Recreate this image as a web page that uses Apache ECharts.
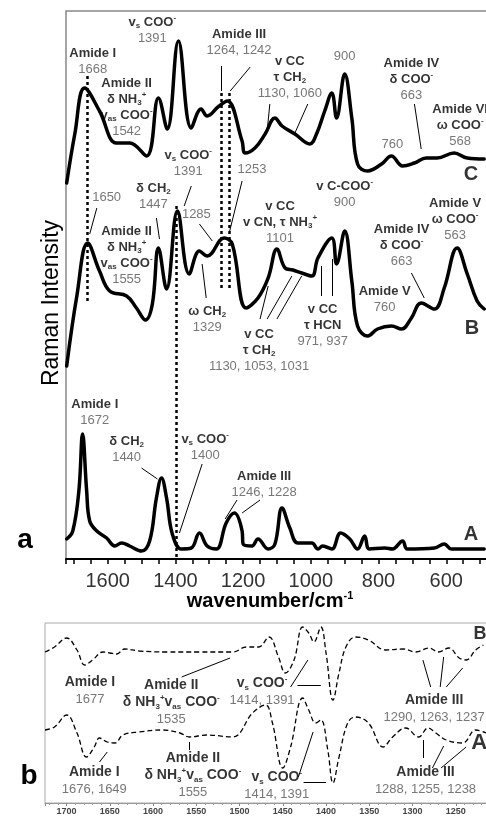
<!DOCTYPE html>
<html>
<head>
<meta charset="utf-8">
<script src="https://cdn.jsdelivr.net/npm/echarts@6.0.0/dist/echarts.min.js"></script>
<style>
	body { margin: 0; background: #fff; }
	#chart { width: 486px; height: 818px; }
</style>
</head>
<body>
<div id="chart"></div>
<script>
// panel a : Raman spectra, [wavenumber, intensity (offset)]
var specC = [[1721,376],[1697,425],[1668,471],[1624,448],[1574,416],[1535,416],[1485,403],[1450,461],[1424,430],[1391,518],[1353,431],[1324,450],[1306,443],[1271,453],[1247,458],[1203,418],[1194,406],[1165,411],[1135,425],[1106,441],[1085,433],[1047,425],[1003,415],[982,426],[959,448],[938,466],[924,441],[900,485],[879,441],[862,395],[832,388],[791,395],[762,403],[729,393],[694,396],[659,401],[627,401],[577,406],[538,401],[488,400]];
var specB = [[1721,193],[1691,263],[1659,316],[1624,288],[1594,268],[1544,263],[1515,251],[1488,239],[1468,255],[1450,311],[1426,270],[1394,348],[1359,285],[1329,308],[1306,303],[1256,321],[1232,315],[1191,251],[1156,261],[1126,281],[1100,310],[1076,291],[1053,289],[1027,286],[997,283],[979,301],[938,321],[924,295],[900,328],[879,278],[862,233],[832,223],[803,230],[762,233],[732,230],[703,241],[674,256],[635,250],[606,271],[568,311],[538,285],[509,258],[488,250]];
var specA = [[1721,20],[1703,28],[1685,68],[1674,125],[1662,68],[1653,38],[1632,28],[1603,21],[1579,13],[1559,16],[1535,13],[1500,8],[1476,18],[1456,61],[1441,81],[1426,61],[1409,25],[1382,10],[1353,11],[1329,26],[1306,13],[1279,10],[1250,36],[1226,46],[1203,28],[1200,15],[1174,13],[1156,20],[1126,10],[1106,15],[1085,51],[1062,31],[1038,16],[997,16],[979,10],[965,13],[938,10],[912,26],[885,20],[862,10],[841,23],[827,10],[782,11],[759,10],[729,18],[715,10],[635,11],[606,15],[585,10],[488,10]];

// panel b : dashed spectra
var irB = [[1725,151],[1714,156],[1700,165],[1688,153],[1679,138],[1670,143],[1658,151],[1650,150],[1642,149],[1633,154],[1616,152],[1584,151],[1546,151],[1508,151],[1492,156],[1478,156],[1466,166],[1455,146],[1447,130],[1437,143],[1427,176],[1420,170],[1414,161],[1406,176],[1400,150],[1392,103],[1385,130],[1377,156],[1366,166],[1351,163],[1331,153],[1311,154],[1296,151],[1281,155],[1270,151],[1258,155],[1246,145],[1238,143],[1227,153],[1218,158]];
var irA = [[1725,73],[1714,76],[1700,88],[1688,70],[1677,46],[1668,56],[1662,65],[1653,61],[1644,60],[1635,68],[1616,71],[1589,73],[1569,70],[1558,66],[1538,68],[1508,66],[1485,90],[1470,98],[1462,80],[1450,35],[1441,56],[1427,105],[1420,93],[1412,80],[1406,83],[1398,53],[1392,20],[1385,46],[1375,80],[1366,86],[1351,80],[1334,56],[1323,66],[1308,75],[1293,66],[1282,75],[1273,70],[1261,63],[1242,60],[1227,73],[1215,70]];

// annotations : [wavenumber, top of text, text]
var notesA = [
	[1468,545,'{b|v}{bs|s}{b| COO}{bp|-}\n{n|1391}'],
	[1644,514,'{b|Amide I}\n{n|1668}'],
	[1544,484,'{b|Amide II}\n{b|δ NH}{bs|3}{bp|+}\n{b|v}{bs|as}{b| COO}{bp|-}\n{n|1542}'],
	[1212,533,'{b|Amide III}\n{n|1264, 1242}'],
	[1062,506,'{b|v CC}\n{b|τ CH}{bs|2}\n{n|1130, 1060}'],
	[900,511,'{n|900}'],
	[703,504,'{b|Amide IV}\n{b|δ COO}{bp|-}\n{n|663}'],
	[559,458,'{b|Amide VI}\n{b|ω COO}{bp|-}\n{n|568}'],
	[759,423,'{n|760}'],
	[527,396,'{big|C}'],
	[1603,370,'{n|1650}'],
	[1465,379,'{b|δ CH}{bs|2}\n{n|1447}'],
	[1362,412,'{b|v}{bs|s}{b| COO}{bp|-}\n{n|1391}'],
	[1338,353,'{n|1285}'],
	[1174,398,'{n|1253}'],
	[1544,336,'{b|Amide II}\n{b|δ NH}{bs|3}{bp|+}\n{b|v}{bs|as}{b| COO}{bp|-}\n{n|1555}'],
	[1306,256,'{b|ω CH}{bs|2}\n{n|1329}'],
	[1091,361,'{b|v CC}\n{b|v CN, τ NH}{bs|3}{bp|+}\n{n|1101}'],
	[900,381,'{b|v C-COO}{bp|-}\n{n|900}'],
	[732,338,'{b|Amide IV}\n{b|δ COO}{bp|-}\n{n|663}'],
	[574,364,'{b|Amide V}\n{b|ω COO}{bp|-}\n{n|563}'],
	[782,276,'{b|Amide V}\n{n|760}'],
	[965,258,'{b|v CC}\n{b|τ HCN}\n{n|971, 937}'],
	[1153,233,'{b|v CC}\n{b|τ CH}{bs|2}\n{n|1130, 1053, 1031}'],
	[524,242,'{big|B}'],
	[1638,163,'{b|Amide I}\n{n|1672}'],
	[1544,126,'{b|δ CH}{bs|2}\n{n|1440}'],
	[1312,128,'{b|v}{bs|s}{b| COO}{bp|-}\n{n|1400}'],
	[1138,91,'{b|Amide III}\n{n|1246, 1228}'],
	[527,36,'{big|A}']
];
var notesB = [
	[1673,129,'{b|Amide I}\n{n|1677}'],
	[1579,126,'{b|Amide II}\n{b|δ NH}{bs|3}{bp|+}{b|v}{bs|as}{b| COO}{bp|-}\n{n|1535}'],
	[1474,128,'{b|v}{bs|s}{b| COO}{bp|-}\n{n|1414, 1391}'],
	[1275,111,'{b|Amide III}\n{n|1290, 1263, 1237}'],
	[1222,179,'{bigs|B}'],
	[1668,39,'{b|Amide I}\n{n|1676, 1649}'],
	[1554,53,'{b|Amide II}\n{b|δ NH}{bs|3}{bp|+}{b|v}{bs|as}{b| COO}{bp|-}\n{n|1555}'],
	[1457,34,'{b|v}{bs|s}{b| COO}{bp|-}\n{n|1414, 1391}'],
	[1285,39,'{b|Amide III}\n{n|1288, 1255, 1238}'],
	[1223,72,'{big|A}']
];

// leader lines [x1, y1, x2, y2]
var leadA = [[1265,493,1265,468],[1179,492,1238,468],[1121,455,1129,428],[1009,455,1047,426],[694,455,674,410],
	[1632,351,1653,325],[1456,341,1447,320],[1353,373,1374,353],[1329,335,1291,318],[1203,378,1241,326],
	[1321,295,1309,261],[703,286,665,261],[968,293,968,263],[938,300,938,263],
	[1126,273,1150,240],[1056,283,1129,240],[1027,283,1100,240],
	[1500,91,1453,80],[1321,95,1388,26],[1218,59,1253,40],[1150,59,1203,46]];
var leadB = [[1567,126,1511,145],[1441,116,1421,143],[1433,118,1406,118],[1288,143,1279,116],[1264,146,1268,116],[1242,135,1261,116],
	[1662,41,1653,51],[1558,61,1558,53],[1432,26,1415,71],[1426,21,1400,21],[1288,63,1288,45],[1264,57,1277,35],[1238,56,1267,35]];
// dotted guide lines [x, yTop, yBottom]
var dotA = [[1659,483,258],[1397,353,0],[1265,466,271],[1241,466,271]];

var F = "'Liberation Sans', Arial, sans-serif";

function richSet(big) {
	return {
		b: {fontFamily: F, fontWeight: 'bold', fontSize: big ? 14 : 13, color: '#000', lineHeight: big ? 17 : 16},
		bs: {fontFamily: F, fontWeight: 'bold', fontSize: 8, color: '#000', verticalAlign: 'bottom', lineHeight: 6},
		bp: {fontFamily: F, fontWeight: 'bold', fontSize: 8, color: '#000', verticalAlign: 'top', lineHeight: 6},
		n: {fontFamily: F, fontSize: 13, color: '#555', lineHeight: big ? 17 : 16},
		big: {fontFamily: F, fontWeight: 'bold', fontSize: big ? 22 : 20, color: '#000', lineHeight: big ? 24 : 22},
		bigs: {fontFamily: F, fontWeight: 'bold', fontSize: 18, color: '#000', lineHeight: 20}
	};
}

function segs(list) {
	var out = [];
	for (var i = 0; i < list.length; i++) {
		out.push([{coord: [list[i][0], list[i][1]]}, {coord: [list[i][2], list[i][3]]}]);
	}
	return out;
}

function plain(v) {
	return String(v);
}

window.onload = function () {
	var chart = echarts.init(document.getElementById('chart'));

	var dots = [];
	for (var i = 0; i < dotA.length; i++) {
		dots.push([{coord: [dotA[i][0], dotA[i][1]]}, {coord: [dotA[i][0], dotA[i][2]]}]);
	}

	var solid = {color: '#000', width: 3.5, cap: 'round', join: 'round'};
	var dashed = {color: '#000', width: 1.3, type: [5, 3]};

	var option = {
		animation: false,
		backgroundColor: '#fff',
		grid: [
			{left: 66, top: 11, right: -28, bottom: 259, show: true, borderColor: '#888', borderWidth: 1.5, outerBoundsMode: 'none', containLabel: false},
			{left: 45, top: 623, right: -13, bottom: 15, show: true, borderColor: '#aaa', borderWidth: 1, outerBoundsMode: 'none', containLabel: false}
		],
		xAxis: [
			{
				gridIndex: 0, type: 'value', inverse: true, min: 400, max: 1723, interval: 200,
				axisLine: {lineStyle: {color: '#000', width: 2}},
				axisTick: {length: 5, lineStyle: {color: '#000', width: 1.5}},
				minorTick: {show: true, splitNumber: 4, length: 5, lineStyle: {color: '#000', width: 1.5}},
				axisLabel: {showMaxLabel: false, margin: 12, fontSize: 20, color: '#333', fontFamily: F, formatter: plain},
				splitLine: {show: false}
			},
			{
				gridIndex: 1, type: 'value', inverse: true, min: 1200, max: 1725, interval: 50,
				axisLine: {lineStyle: {color: '#999', width: 1}},
				axisTick: {length: 3, lineStyle: {color: '#888'}},
				minorTick: {show: true, splitNumber: 5, length: 2, lineStyle: {color: '#999'}},
				axisLabel: {showMaxLabel: false, margin: 4, fontSize: 9, fontWeight: 'bold', color: '#444', fontFamily: F, formatter: plain},
				splitLine: {show: false}
			}
		],
		yAxis: [
			{gridIndex: 0, type: 'value', min: 0, max: 548, show: false},
			{gridIndex: 1, type: 'value', min: 0, max: 180, show: false}
		],
		series: [
			{type: 'line', xAxisIndex: 0, yAxisIndex: 0, data: specC, smooth: 0.4, showSymbol: false, lineStyle: solid},
			{type: 'line', xAxisIndex: 0, yAxisIndex: 0, data: specB, smooth: 0.4, showSymbol: false, lineStyle: solid},
			{type: 'line', xAxisIndex: 0, yAxisIndex: 0, data: specA, smooth: 0.4, showSymbol: false, lineStyle: solid},
			{type: 'line', xAxisIndex: 1, yAxisIndex: 1, data: irB, smooth: 0.4, showSymbol: false, lineStyle: dashed},
			{type: 'line', xAxisIndex: 1, yAxisIndex: 1, data: irA, smooth: 0.4, showSymbol: false, lineStyle: dashed},
			{
				type: 'scatter', xAxisIndex: 0, yAxisIndex: 0, data: notesA, symbolSize: 0, silent: true,
				label: {show: true, position: 'bottom', distance: 0, lineHeight: 16, rich: richSet(false),
					formatter: function (p) { return p.data[2]; }},
				markLine: {silent: true, symbol: ['none', 'none'], label: {show: false},
					lineStyle: {color: '#000', width: 1, type: 'solid'}, data: segs(leadA)}
			},
			{
				type: 'scatter', xAxisIndex: 0, yAxisIndex: 0, data: [[1600, -100]], symbolSize: 0, silent: true,
				markLine: {silent: true, symbol: ['none', 'none'], label: {show: false},
					lineStyle: {color: '#000', width: 2.5, type: [3, 3]}, data: dots}
			},
			{
				type: 'scatter', xAxisIndex: 1, yAxisIndex: 1, data: notesB, symbolSize: 0, silent: true,
				label: {show: true, position: 'bottom', distance: 0, lineHeight: 17, rich: richSet(true),
					formatter: function (p) { return p.data[2]; }},
				markLine: {silent: true, symbol: ['none', 'none'], label: {show: false},
					lineStyle: {color: '#000', width: 1, type: 'solid'}, data: segs(leadB)}
			}
		],
		graphic: [
			{type: 'text', x: 52, y: 303, rotation: Math.PI / 2,
				style: {text: 'Raman Intensity', fontFamily: F, fontSize: 23, fill: '#000', align: 'center', verticalAlign: 'middle', textAlign: 'center', textVerticalAlign: 'middle'}},
			{type: 'text', x: 270, y: 601,
				style: {text: '{t|wavenumber/cm}{s|-1}', align: 'center', verticalAlign: 'middle', textAlign: 'center', textVerticalAlign: 'middle',
					rich: {t: {fontFamily: F, fontWeight: 'bold', fontSize: 20, fill: '#000', lineHeight: 22},
						s: {fontFamily: F, fontWeight: 'bold', fontSize: 11, fill: '#000', verticalAlign: 'top', lineHeight: 10}}}},
			{type: 'text', x: 25, y: 540,
				style: {text: 'a', fontFamily: F, fontWeight: 'bold', fontSize: 28, fill: '#000', align: 'center', verticalAlign: 'middle', textAlign: 'center', textVerticalAlign: 'middle'}},
			{type: 'text', x: 29, y: 776,
				style: {text: 'b', fontFamily: F, fontWeight: 'bold', fontSize: 28, fill: '#000', align: 'center', verticalAlign: 'middle', textAlign: 'center', textVerticalAlign: 'middle'}}
		]
	};
	chart.setOption(option);
}
</script>
</body>
</html>
